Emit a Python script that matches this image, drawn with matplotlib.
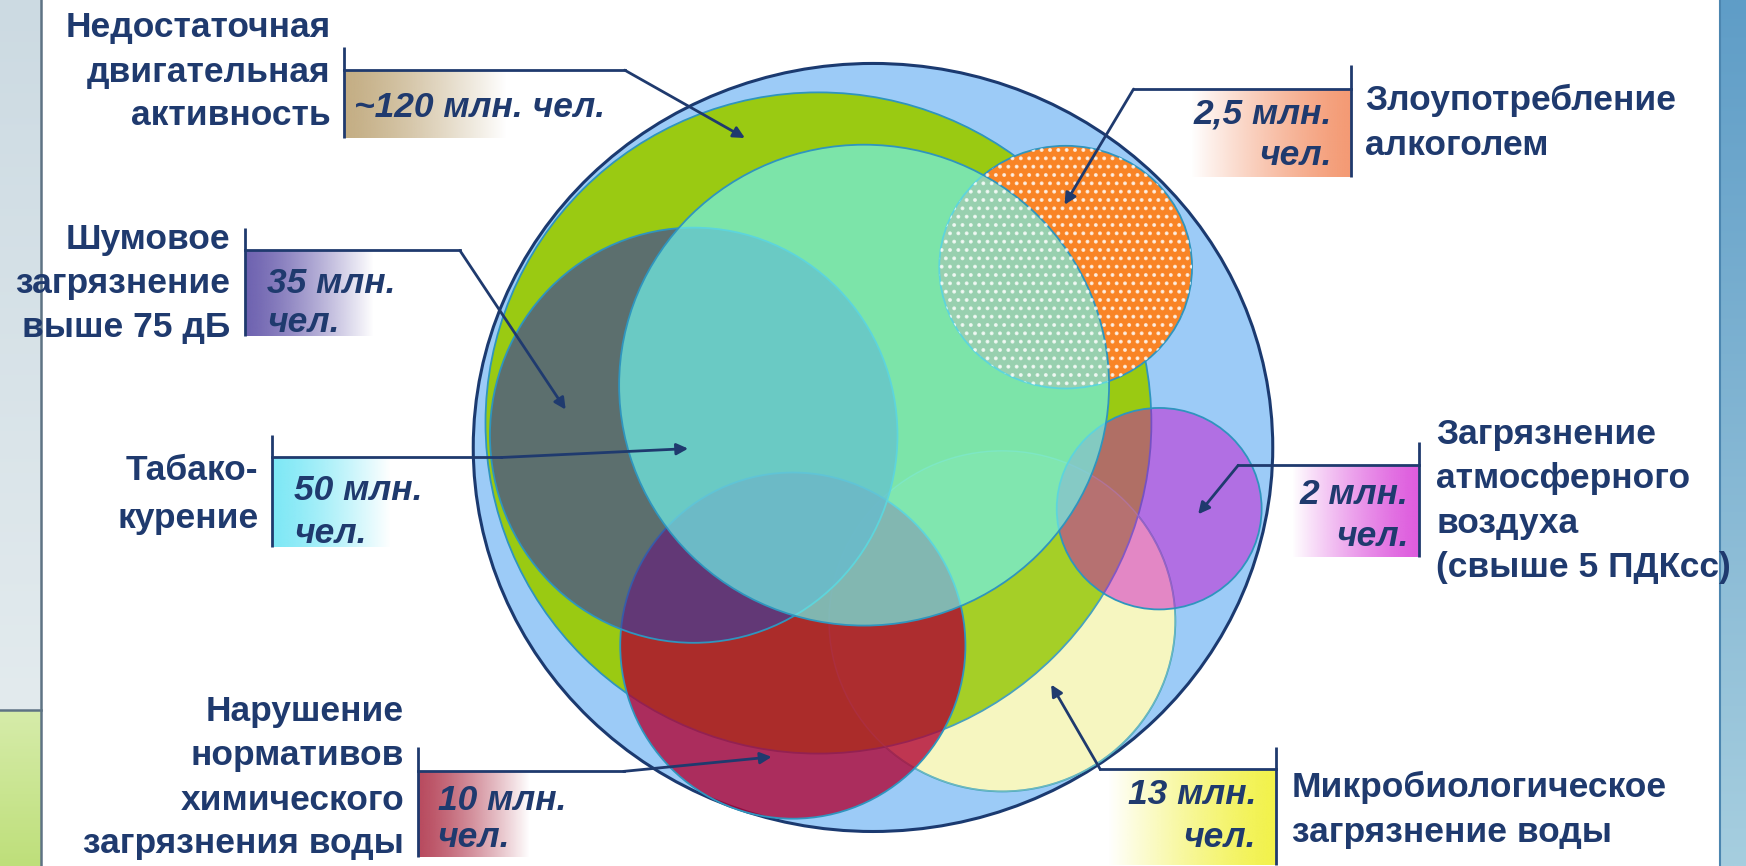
import numpy as np
import matplotlib
matplotlib.use('Agg')
import matplotlib.pyplot as plt
from matplotlib.patches import Ellipse
from matplotlib.colors import to_rgb
from matplotlib import font_manager

# факторы риска и численность населения под воздействием
label_lines = [
    ['Недостаточная', 'двигательная', 'активность'],
    ['Злоупотребление', 'алкоголем'],
    ['Шумовое', 'загрязнение', 'выше 75 дБ'],
    ['Табако-', 'курение'],
    ['Нарушение', 'нормативов', 'химического', 'загрязнения воды'],
    ['Микробиологическое', 'загрязнение воды'],
    ['Загрязнение', 'атмосферного', 'воздуха', '(свыше 5 ПДКсс)'],
]
value_lines = [
    ['~120 млн. чел.'],
    ['2,5 млн.', 'чел.'],
    ['35 млн.', 'чел.'],
    ['50 млн.', 'чел.'],
    ['10 млн.', 'чел.'],
    ['13 млн.', 'чел.'],
    ['2 млн.', 'чел.'],
]
millions = [120, 2.5, 35, 50, 10, 13, 2]

# --- оформление (координаты в пикселях картинки 1568x778) ---
W, H = 1568, 778
navy = '#1F3A6E'

# круги: (cx, cy, w, h), заливка, прозрачность; порядок = порядок отрисовки
circles = {
    'outer':  ((784, 402, 718, 690), '#9CCBF7', 1.0),
    'yellow': ((900, 558, 311, 306), '#F6F6C0', 1.0),
    'green':  ((735, 380, 598, 594), '#9ACA12', 1.0),
    'orange': ((957, 240, 227, 218), '#F98426', 1.0),
    'red':    ((712, 580, 310, 311), '#B00032', 0.78),
    'grey':   ((623, 391, 366, 373), '#3C3F9F', 0.655),
    'purple': ((1041, 457, 184, 181), '#CC00CC', 0.45),
    'mint':   ((776, 346, 440, 432), '#71F0E8', 0.71),
}

# выноски: сторона подписи, x планки, (y0, y1) планки, y линии, путь стрелки, конец градиента, цвет,
# x подписи, y строк подписи, x значения, y строк значения
callouts = [
    ('L', 309, (42, 124), 63, [(309, 63), (561, 63), (669, 124)], 455, '#C4AE84', 297, [25, 65, 104], 318, [97]),
    ('R', 1213, (58, 159), 80, [(1213, 80), (1018, 80), (956, 184)], 1070, '#F49A74', 1226, [90, 131], 1196, [102, 140]),
    ('L', 220, (205, 302), 225, [(220, 225), (413, 225), (508, 368)], 335, '#6E62B0', 207, [215, 255, 294], 240, [255, 290]),
    ('L', 244, (391, 491), 411, [(244, 411), (450, 411), (618, 403)], 350, '#7EE8F6', 232, [423, 466], 264, [441, 479]),
    ('L', 375, (671, 770), 693, [(375, 693), (560, 693), (693, 680)], 475, '#B84A5E', 363, [639, 679, 719, 758], 393, [719, 752]),
    ('R', 1146, (671, 777), 691, [(1146, 691), (988, 691), (944, 615)], 995, '#F2F24A', 1160, [707, 748], 1128, [714, 752]),
    ('R', 1274, (397, 500), 418, [(1274, 418), (1112, 418), (1076, 462)], 1160, '#DE5CDE', 1290, [390, 430, 470, 510], 1265, [444, 482]),
]

names = {f.name for f in font_manager.fontManager.ttflist}
fam = [f for f in ['Liberation Sans', 'Arial', 'DejaVu Sans'] if f in names]
plt.rcParams['font.family'] = fam
plt.rcParams['hatch.linewidth'] = 1.6

fig = plt.figure(figsize=(17.46, 8.66), dpi=100)
ax = fig.add_axes([0, 0, 1, 1])
ax.set_xlim(0, W)
ax.set_ylim(H, 0)
ax.axis('off')


def hgrad(x0, x1, y0, y1, color, z, power=1.0):
    n = 256
    t = np.linspace(0, 1, n) ** power
    img = np.zeros((1, n, 4))
    img[..., :3] = to_rgb(color)
    img[..., 3] = 1 - t
    xl, xr = (x0, x1) if x0 < x1 else (x1, x0)
    if x0 > x1:
        img = img[:, ::-1]
    ax.imshow(img, extent=[xl, xr, y1, y0], aspect='auto', zorder=z, interpolation='bilinear')


def vgrad(x0, x1, y0, y1, c0, c1, z):
    n = 256
    t = np.linspace(0, 1, n)[:, None, None]
    img = (1 - t) * np.array(to_rgb(c0)) + t * np.array(to_rgb(c1))
    ax.imshow(img, extent=[x0, x1, y1, y0], aspect='auto', zorder=z, interpolation='bilinear')


# боковые полосы слайда
vgrad(0, 37, 0, 638, '#CCDAE2', '#E3EBEE', 0)
vgrad(0, 37, 638, H, '#D6ECAA', '#BEDF7A', 0)
ax.plot([37, 37], [0, H], color='#5E7384', lw=1.8, zorder=1)
ax.plot([0, 37], [638, 638], color='#5E7384', lw=1.8, zorder=1)
vgrad(1545, W, 0, H, '#5F9DC7', '#A6CEDF', 0)
ax.plot([1545, 1545], [0, H], color='#4C86B0', lw=1.5, zorder=1)

# круги
z = 2
for key, ((cx, cy, w, h), col, a) in circles.items():
    face = to_rgb(col) + (a,)
    if key == 'outer':
        ax.add_patch(Ellipse((cx, cy), w, h, facecolor=face, edgecolor='#1B3A70', lw=2.2, zorder=z))
    else:
        ax.add_patch(Ellipse((cx, cy), w, h, facecolor=face, edgecolor='#2F95BE', lw=1.3, zorder=z))
    if key == 'green':
        # слабый след жёлтого круга поверх зелёного
        (ycx, ycy, yw, yh), ycol, _ = circles['yellow']
        z += 0.1
        ax.add_patch(Ellipse((ycx, ycy), yw, yh, facecolor=to_rgb(ycol) + (0.12,),
                             edgecolor=(0.6, 0.85, 0.75, 0.5), lw=1.0, zorder=z))
    z += 0.1

# точечная штриховка оранжевого круга
(ocx, ocy, ow, oh), _, _ = circles['orange']
ax.add_patch(Ellipse((ocx, ocy), ow, oh, facecolor='none', edgecolor=(1, 1, 1, 0.75), lw=0,
                     hatch='..', zorder=z))

fs = 25.5
for i, (side, bx, (by0, by1), ly, path, gx, gcol, lx, lys, vx, vys) in enumerate(callouts):
    hgrad(bx, gx, ly, by1, gcol, 5, power=1.3)
    ax.plot([bx, bx], [by0, by1], color=navy, lw=2.0, zorder=7, solid_capstyle='butt')
    xs, ys = zip(*path)
    ax.plot(xs[:-1], ys[:-1], color=navy, lw=2.0, zorder=7)
    ax.annotate('', xy=path[-1], xytext=path[-2],
                arrowprops=dict(arrowstyle='-|>', color=navy, lw=2.0, mutation_scale=17,
                                shrinkA=0, shrinkB=0), zorder=7)
    lha = 'right' if side == 'L' else 'left'
    vha = 'left' if side == 'L' else 'right'
    for s, y in zip(label_lines[i], lys):
        ax.text(lx, y, s, ha=lha, va='center', fontsize=fs, fontweight='bold', color=navy, zorder=8)
    for s, y in zip(value_lines[i], vys):
        ax.text(vx, y, s, ha=vha, va='center', fontsize=fs, fontweight='bold', fontstyle='italic',
                color=navy, zorder=8)

fig.savefig('out.png', dpi=100)
